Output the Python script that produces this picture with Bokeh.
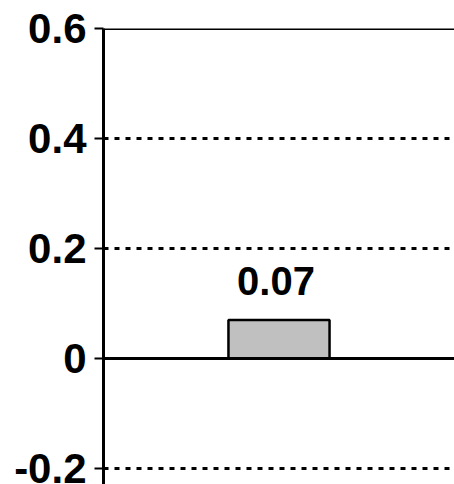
from bokeh.plotting import figure
from bokeh.models import Range1d, FactorRange, Span, FixedTicker, ColumnDataSource
from bokeh.core.properties import value
from bokeh.embed import file_html
from bokeh.resources import INLINE

categories = ["A"]
values = [0.07]
labels = ["0.07"]
tick_values = [-0.2, 0, 0.2, 0.4, 0.6]
tick_labels = ["-0.2", "0", "0.2", "0.4", "0.6"]

FONT = "Liberation Sans"

p = figure(width=454, height=484, output_backend="svg", toolbar_location=None,
           x_range=FactorRange(*categories), y_range=Range1d(-0.229, 0.6),
           min_border_left=103, min_border_top=28, min_border_right=0, min_border_bottom=0)
p.outline_line_color = None
p.background_fill_color = "white"
p.border_fill_color = "white"
p.xaxis.visible = False
p.xgrid.visible = False

p.yaxis.ticker = FixedTicker(ticks=tick_values)
p.yaxis.major_label_overrides = {t: l for t, l in zip(tick_values, tick_labels)}
p.yaxis.minor_tick_line_color = None
p.yaxis.major_tick_out = 9
p.yaxis.major_tick_in = 0
p.yaxis.major_tick_line_width = 2
p.yaxis.major_tick_line_color = "black"
p.yaxis.axis_line_width = 3
p.yaxis.axis_line_color = "black"
p.yaxis.major_label_text_font = FONT
p.yaxis.major_label_text_font_style = "bold"
p.yaxis.major_label_text_font_size = "42px"
p.yaxis.major_label_text_color = "black"
p.yaxis.major_label_standoff = 8

p.ygrid.ticker = FixedTicker(ticks=[-0.2, 0, 0.2, 0.4])
p.ygrid.grid_line_color = "black"
p.ygrid.grid_line_width = 3
p.ygrid.grid_line_dash = "5 6"

src = ColumnDataSource(dict(x=categories, top=values, label=labels))
p.vbar(x="x", top="top", bottom=0, width=0.288, source=src,
       fill_color="#c0c0c0", line_color="black", line_width=2.5)

p.add_layout(Span(location=0, dimension="width", line_color="black", line_width=3))
p.add_layout(Span(location=0.6, dimension="width", line_color="black", line_width=3))

p.text(x="x", y="top", text="label", source=src, text_align="center",
       text_baseline="alphabetic", y_offset=-39, x_offset=-3,
       text_font=value(FONT), text_font_style="bold", text_font_size="40px",
       text_color="black")

open("out.html", "w").write(file_html(p, INLINE))
